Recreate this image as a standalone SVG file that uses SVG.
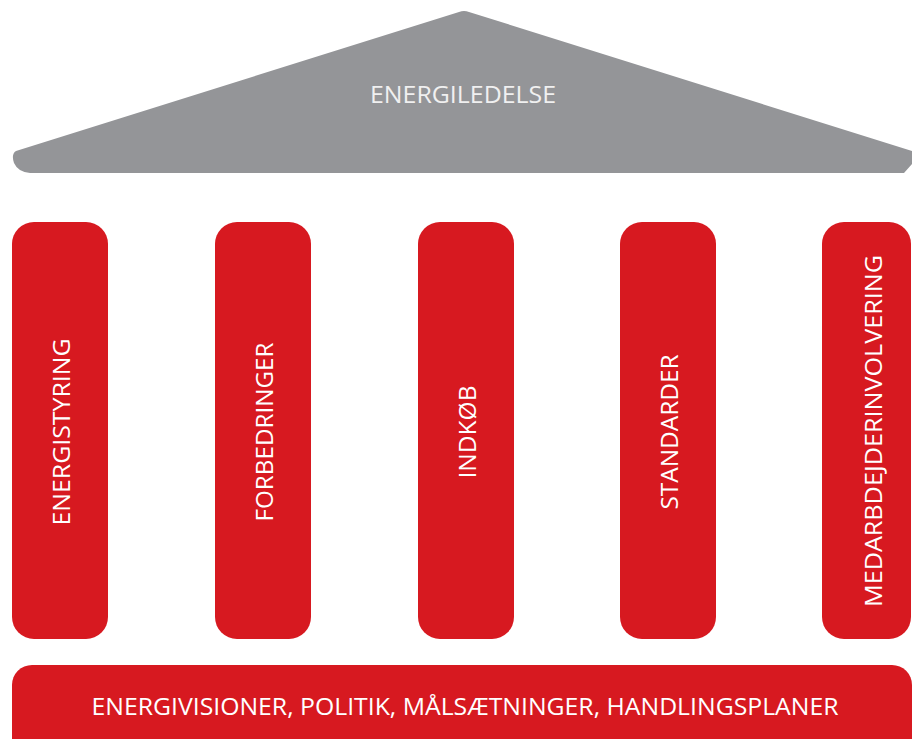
<svg xmlns="http://www.w3.org/2000/svg" width="912" height="739" viewBox="0 0 912 739">
<style>
.pillar{fill:#D71920}
.t{fill:#ffffff;font-family:"Open Sans","Liberation Sans",sans-serif;font-size:24px;text-anchor:middle;dominant-baseline:central}
.roof-t{fill:#f0f0f0}
</style>
<rect width="912" height="739" fill="#ffffff"/>
<g id="roof">
<path d="M 16,151 L 459,12 Q 464,10 469,12 L 912,151 L 912,164 L 904,173 L 30,173 Q 18,172 14,163 Q 11,154 16,151 Z" fill="#949598"/>
<text class="t roof-t" x="463" y="93" textLength="186" lengthAdjust="spacingAndGlyphs">ENERGILEDELSE</text>
</g>
<g id="pillar1">
<rect class="pillar" x="12" y="222" width="96" height="417" rx="22"/>
<text class="t" transform="translate(60,432) rotate(-90)" textLength="187" lengthAdjust="spacingAndGlyphs">ENERGISTYRING</text>
</g>
<g id="pillar2">
<rect class="pillar" x="215" y="222" width="96" height="417" rx="22"/>
<text class="t" transform="translate(263,432) rotate(-90)" textLength="179" lengthAdjust="spacingAndGlyphs">FORBEDRINGER</text>
</g>
<g id="pillar3">
<rect class="pillar" x="418" y="222" width="96" height="417" rx="22"/>
<text class="t" transform="translate(466,432) rotate(-90)" textLength="93" lengthAdjust="spacingAndGlyphs">INDKØB</text>
</g>
<g id="pillar4">
<rect class="pillar" x="620" y="222" width="96" height="417" rx="22"/>
<text class="t" transform="translate(668,432) rotate(-90)" textLength="155" lengthAdjust="spacingAndGlyphs">STANDARDER</text>
</g>
<g id="pillar5">
<rect class="pillar" x="822" y="222" width="89" height="417" rx="22"/>
<text class="t" transform="translate(872,431) rotate(-90)" textLength="352" lengthAdjust="spacingAndGlyphs">MEDARBDEJDERINVOLVERING</text>
</g>
<g id="base">
<rect class="pillar" x="12" y="665" width="900" height="100" rx="20"/>
<text class="t" x="465" y="705" font-size="26" textLength="747" lengthAdjust="spacingAndGlyphs">ENERGIVISIONER, POLITIK, MÅLSÆTNINGER, HANDLINGSPLANER</text>
</g>
<g id="connectors"/>
</svg>
